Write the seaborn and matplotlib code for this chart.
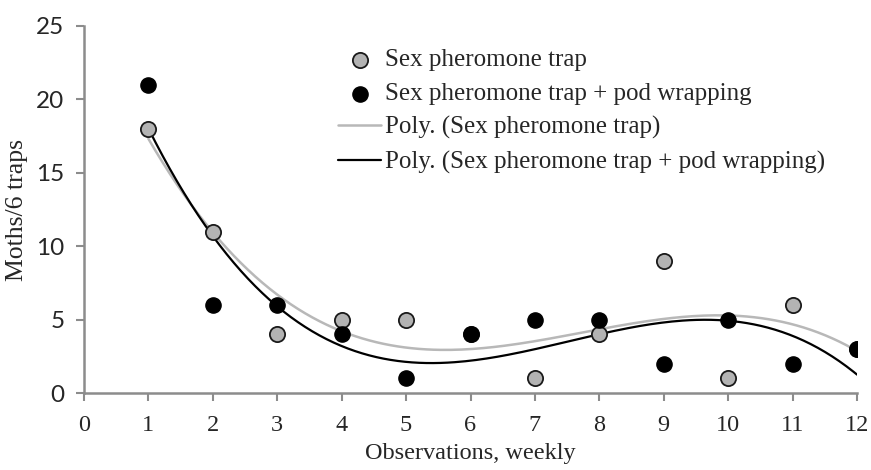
import numpy as np
import pandas as pd
import matplotlib
matplotlib.use("Agg")
import matplotlib.pyplot as plt
import seaborn as sns

weeks = [1, 2, 3, 4, 5, 6, 7, 8, 9, 10, 11, 12]
trap = [18, 11, 4, 5, 5, 4, 1, 4, 9, 1, 6, 3]
trap_wrap = [21, 6, 6, 4, 1, 4, 5, 5, 2, 5, 2, 3]

LBL_A = "Sex pheromone trap"
LBL_B = "Sex pheromone trap + pod wrapping"
POLY_ORDER = 3

sns.set_style("white")
plt.rcParams["font.family"] = ["Liberation Serif", "DejaVu Serif"]

df = pd.DataFrame({"week": weeks, "trap": trap, "wrap": trap_wrap})

# polynomial trendlines (like Excel "Poly.")
xs = np.linspace(min(weeks), max(weeks), 200)
fit_a = np.polyval(np.polyfit(weeks, trap, POLY_ORDER), xs)
fit_b = np.polyval(np.polyfit(weeks, trap_wrap, POLY_ORDER), xs)

fig = plt.figure(figsize=(8.71, 4.70), dpi=100)
ax = fig.add_axes([0.0964, 0.1638, 0.8876, 0.7809])

sns.scatterplot(data=df, x="week", y="trap", ax=ax, color="#b3b3b3",
                edgecolor="#1a1a1a", linewidth=1.3, s=120, label=LBL_A, zorder=3)
sns.scatterplot(data=df, x="week", y="wrap", ax=ax, color="black",
                edgecolor="black", linewidth=1.0, s=120, label=LBL_B, zorder=4)
sns.lineplot(x=xs, y=fit_a, ax=ax, color="#b8b8b8", lw=1.8,
             label="Poly. (" + LBL_A + ")", zorder=2)
sns.lineplot(x=xs, y=fit_b, ax=ax, color="black", lw=1.6,
             label="Poly. (" + LBL_B + ")", zorder=2)

ax.set_xlim(0, 12)
ax.set_ylim(0, 25)
ax.set_xticks(range(0, 13))
ax.set_yticks(range(0, 26, 5))
ax.tick_params(axis="both", labelsize=17.5, color="#8c8c8c", length=6, width=1.5,
               direction="out", left=True, bottom=True)
ax.tick_params(axis="x", pad=10)
ax.tick_params(axis="y", pad=8)
for t in ax.get_yticklabels():
    t.set_family(["Lato", "DejaVu Sans"])
for s in ["top", "right"]:
    ax.spines[s].set_visible(False)
for s in ["left", "bottom"]:
    ax.spines[s].set_color("#8c8c8c")
    ax.spines[s].set_linewidth(1.8)
ax.set_xlabel("Observations, weekly", fontsize=17.5, labelpad=5)
ax.set_ylabel("Moths/6 traps", fontsize=18.5, labelpad=6)

ax.legend(loc="upper left", bbox_to_anchor=(0.316, 0.965), frameon=False,
          fontsize=18, handlelength=1.7, handletextpad=0.15, labelspacing=0.45,
          borderaxespad=0)

fig.savefig("out.png", dpi=100)
